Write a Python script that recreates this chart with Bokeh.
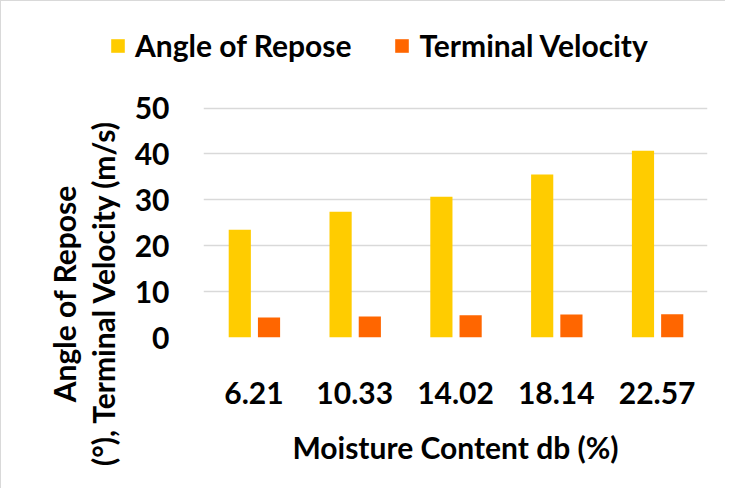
from bokeh.plotting import figure
from bokeh.layouts import column, row
from bokeh.models import (FactorRange, Range1d, FixedTicker, Legend, LegendItem,
                          Div, ColumnDataSource)
from bokeh.transform import dodge
from bokeh.embed import file_html
from bokeh.resources import INLINE

moisture = ["6.21", "10.33", "14.02", "18.14", "22.57"]
angle_of_repose = [23.5, 27.4, 30.7, 35.5, 40.7]
terminal_velocity = [4.35, 4.56, 4.85, 5.0, 5.07]
y_ticks = [0, 10, 20, 30, 40, 50]
series_names = ["Angle of Repose", "Terminal Velocity"]
series_colors = ["#FFCC00", "#FF6600"]
y_title_lines = ["Angle of Repose", "(°), Terminal Velocity (m/s)"]
x_title = "Moisture Content db (%)"

FONT = "Lato"
FS = "30px"

W, H = 724, 487
LEG_H = 80
YT_W = 130

src = ColumnDataSource(dict(x=moisture, aor=angle_of_repose, tv=terminal_velocity))

# ---------- main chart ----------
p = figure(width=W - YT_W, height=H - LEG_H, x_range=FactorRange(*moisture),
           y_range=Range1d(0, 51), output_backend="svg", toolbar_location=None,
           min_border_left=72, min_border_right=18, min_border_top=22,
           min_border_bottom=151)
p.outline_line_color = None
p.background_fill_color = "white"
p.border_fill_color = "white"

p.vbar(x=dodge("x", -0.14, range=p.x_range), top="aor", width=0.22,
       source=src, fill_color=series_colors[0], line_color=None)
p.vbar(x=dodge("x", 0.15, range=p.x_range), top="tv", width=0.22,
       source=src, fill_color=series_colors[1], line_color=None)

p.xgrid.grid_line_color = None
p.ygrid.ticker = FixedTicker(ticks=y_ticks)
p.ygrid.grid_line_color = "#D9D9D9"
p.ygrid.grid_line_width = 1.5

p.yaxis.ticker = FixedTicker(ticks=y_ticks)
p.yaxis.axis_line_color = None
p.yaxis.major_tick_line_color = None
p.yaxis.minor_tick_line_color = None
p.yaxis.major_label_standoff = 28
p.yaxis.major_label_text_font = FONT
p.yaxis.major_label_text_font_style = "bold"
p.yaxis.major_label_text_font_size = FS
p.yaxis.major_label_text_color = "black"

p.xaxis.axis_line_color = None
p.xaxis.major_tick_line_color = None
p.xaxis.minor_tick_line_color = None
p.xaxis.major_label_standoff = 38
p.xaxis.major_label_text_font = FONT
p.xaxis.major_label_text_font_style = "bold"
p.xaxis.major_label_text_font_size = FS
p.xaxis.major_label_text_color = "black"
p.xaxis.axis_label = x_title
p.xaxis.axis_label_standoff = 22
p.xaxis.axis_label_text_font = FONT
p.xaxis.axis_label_text_font_style = "bold"
p.xaxis.axis_label_text_font_size = FS
p.xaxis.axis_label_text_color = "black"

# ---------- y-axis title (two centred lines, rotated) ----------
ytitle_html = (
    '<div style="position:absolute;left:83px;top:213px;'
    'transform:translate(-50%,-50%) rotate(-90deg);white-space:nowrap;'
    'text-align:center;font-family:Lato;font-weight:bold;font-size:30px;'
    'line-height:39px;color:#000;">' + "<br>".join(y_title_lines) + "</div>"
)
yt = Div(text=ytitle_html, width=YT_W, height=H - LEG_H, margin=0,
         styles={"position": "relative", "overflow": "visible"})

# ---------- legend strip ----------
lg = figure(width=W, height=LEG_H, x_range=FactorRange(*moisture),
            y_range=Range1d(100, 180), output_backend="svg",
            toolbar_location=None, min_border=0)
lg.axis.visible = False
lg.grid.visible = False
lg.outline_line_color = None
lg.background_fill_color = "white"
lg.border_fill_color = "white"
# same series, lying below the strip's visible range: only the legend keys show
l1 = lg.vbar(x="x", top="aor", width=0.2, source=src,
             fill_color=series_colors[0], line_color=None)
l2 = lg.vbar(x="x", top="tv", width=0.2, source=src,
             fill_color=series_colors[1], line_color=None)
legend = Legend(items=[LegendItem(label=series_names[0], renderers=[l1]),
                       LegendItem(label=series_names[1], renderers=[l2])],
                orientation="horizontal", location=(108, 18), margin=0,
                padding=5, spacing=42, label_standoff=9, glyph_width=17,
                glyph_height=17, border_line_color=None,
                background_fill_alpha=0,
                label_text_font=FONT, label_text_font_style="bold",
                label_text_font_size=FS, label_text_color="black")
lg.add_layout(legend)

layout = column(lg, row(yt, p))
layout.styles = {"border-left": "1px solid #D9D9D9", "border-top": "1px solid #D9D9D9"}

open("out.html", "w").write(file_html(layout, INLINE))
